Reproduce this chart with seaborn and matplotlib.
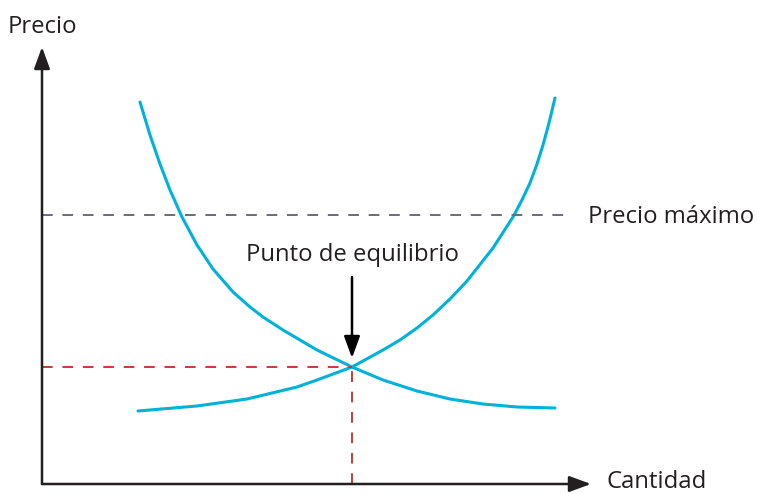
import matplotlib
matplotlib.use('Agg')
import matplotlib.pyplot as plt
import seaborn as sns
import pandas as pd

sns.set_theme(style='white')
plt.rcParams['font.family'] = ['Open Sans', 'DejaVu Sans']

# curvas (cantidad, precio)
demanda_q = [98, 108, 118, 128, 140, 155, 171, 191, 208, 221, 241, 275, 310,
             341, 375, 408, 441, 475, 513]
demanda_p = [382, 349, 320, 294, 267, 239, 215, 192, 177, 167, 154, 134, 117,
             104, 93, 85, 80, 77, 76]
oferta_q = [96, 155, 205, 255, 275, 310, 341, 358, 375, 391, 408, 425, 451, 471,
            480, 488, 495, 501, 507, 513]
oferta_p = [73, 78, 85, 97, 104, 117, 134, 144, 156, 169, 185, 203, 236, 267,
            284, 301, 320, 339, 361, 386]

precio_maximo = 269
equilibrio_q = 310
equilibrio_p = 117

azul = '#00b2d9'
eje = '#231f20'
rojo = '#c43c36'

df = pd.concat([
    pd.DataFrame({'q': demanda_q, 'p': demanda_p, 'curva': 'Demanda'}),
    pd.DataFrame({'q': oferta_q, 'p': oferta_p, 'curva': 'Oferta'}),
])

fig = plt.figure(figsize=(7.58, 4.94), dpi=100)
ax = fig.add_axes([0, 0, 1, 1])
ax.set_xlim(-42, 716)
ax.set_ylim(-10, 484)
ax.axis('off')

sns.lineplot(data=df, x='q', y='p', units='curva', estimator=None, sort=False,
             color=azul, linewidth=2.2, ax=ax, legend=False)

# precio maximo
ax.plot([0, 524], [precio_maximo, precio_maximo], color='#6b6a7a', lw=1.4,
        dashes=(5.5, 5))
ax.text(546, precio_maximo - 2, 'Precio máximo', fontsize=17.2, color=eje,
        va='center', ha='left')

# lineas de equilibrio
ax.plot([0, equilibrio_q], [equilibrio_p, equilibrio_p], color=rojo, lw=1.4,
        dashes=(5.5, 5))
ax.plot([equilibrio_q, equilibrio_q], [0, equilibrio_p], color=rojo, lw=1.4,
        dashes=(5.5, 5))

# flecha al punto de equilibrio
estilo = '-|>,head_length=0.6,head_width=0.22'
ax.annotate('', xy=(equilibrio_q, equilibrio_p + 9), xytext=(equilibrio_q, 207),
            arrowprops=dict(arrowstyle=estilo, color='black', lw=1.8,
                            mutation_scale=22, shrinkA=0, shrinkB=0))
ax.text(equilibrio_q, 229, 'Punto de equilibrio', fontsize=17.2, color=eje,
        ha='center', va='center')

# ejes con flechas
ax.annotate('', xy=(549, 0), xytext=(0, 0),
            arrowprops=dict(arrowstyle=estilo, color=eje, lw=1.8,
                            mutation_scale=22, shrinkA=0, shrinkB=0))
ax.annotate('', xy=(0, 437), xytext=(0, 0),
            arrowprops=dict(arrowstyle=estilo, color=eje, lw=1.8,
                            mutation_scale=22, shrinkA=0, shrinkB=0))
ax.text(565, 2, 'Cantidad', fontsize=17.2, color=eje, ha='left', va='center')
ax.text(-34, 457, 'Precio', fontsize=17.2, color=eje, ha='left', va='center')

fig.savefig('out.png', dpi=100)
